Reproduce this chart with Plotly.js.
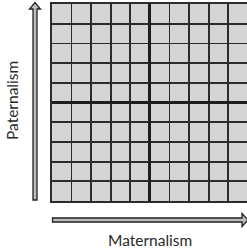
<!DOCTYPE html>
<html>
<head>
<meta charset="utf-8">
<script src="https://cdn.plot.ly/plotly-3.0.1.min.js"></script>
<style>html,body{margin:0;padding:0;background:#fff;}#chart{width:247px;height:251px;}</style>
</head>
<body>
<div id="chart"></div>
<script>
// Grid tick positions (10 x 10 cells, centre lines at 0)
const xTicks = [-5, -4, -3, -2, -1, 0, 1, 2, 3, 4, 5];
const yTicks = [-5, -4, -3, -2, -1, 0, 1, 2, 3, 4, 5];
const xLabel = 'Maternalism';
const yLabel = 'Paternalism';

const W = 247, H = 251;
const M = {l: 52, r: 0, t: 4, b: 50};
const pw = W - M.l - M.r, ph = H - M.t - M.b;
const px = x => (x - M.l) / pw;
const py = y => (H - M.b - y) / ph;
function pathFrom(pts) {
  return 'M ' + pts.map(p => px(p[0]).toFixed(4) + ' ' + py(p[1]).toFixed(4)).join(' L ') + ' Z';
}
// hollow arrows (decoration)
const vArrow = pathFrom([[33, 200], [37, 200], [37, 9], [40.5, 9], [35, 2.5], [29.5, 9], [33, 9]]);
const hArrow = pathFrom([[52.5, 218], [242, 218], [242, 213.5], [248, 220], [242, 226.5], [242, 222], [52.5, 222]]);

const font = {family: 'Lato, "Open Sans", sans-serif', size: 15.5, color: '#2a2a2a'};
const layout = {
  width: W, height: H,
  margin: M,
  paper_bgcolor: '#ffffff',
  plot_bgcolor: '#d4d4d4',
  showlegend: false,
  xaxis: {
    range: [-5, 4.96], tickvals: xTicks, showticklabels: false, ticks: '',
    showgrid: true, gridcolor: '#2b2b2b', gridwidth: 1.8,
    zeroline: true, zerolinecolor: '#1e1e1e', zerolinewidth: 3,
    showline: true, linecolor: '#2b2b2b', linewidth: 1.8, mirror: true,
    fixedrange: true
  },
  yaxis: {
    range: [-5, 5], tickvals: yTicks, showticklabels: false, ticks: '',
    showgrid: true, gridcolor: '#2b2b2b', gridwidth: 1.8,
    zeroline: true, zerolinecolor: '#1e1e1e', zerolinewidth: 3,
    showline: true, linecolor: '#2b2b2b', linewidth: 1.8, mirror: false,
    fixedrange: true
  },
  shapes: [
    {type: 'path', xref: 'paper', yref: 'paper', path: vArrow, fillcolor: '#bdbdbd', line: {color: '#222', width: 1.3}, layer: 'above'},
    {type: 'path', xref: 'paper', yref: 'paper', path: hArrow, fillcolor: '#bdbdbd', line: {color: '#222', width: 1.3}, layer: 'above'}
  ],
  annotations: [
    {text: xLabel, xref: 'paper', yref: 'paper', x: px(150), y: py(240), xanchor: 'center', yanchor: 'middle', showarrow: false, font: font},
    {text: yLabel, xref: 'paper', yref: 'paper', x: px(12), y: py(101), xanchor: 'center', yanchor: 'middle', textangle: -90, showarrow: false, font: font}
  ]
};
Plotly.newPlot('chart', [], layout, {staticPlot: true, displayModeBar: false});
</script>
</body>
</html>
